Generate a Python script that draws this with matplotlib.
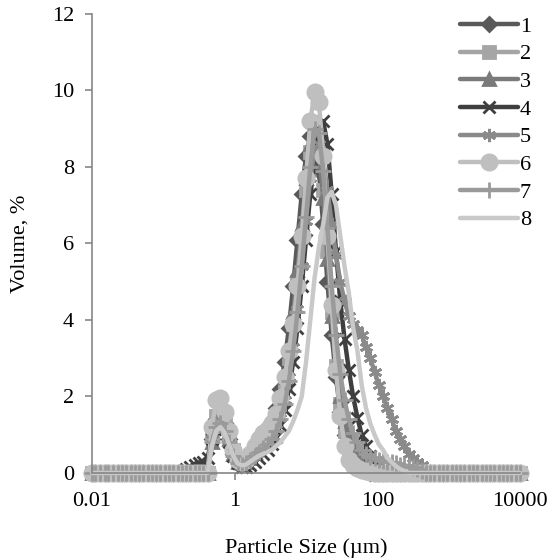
import numpy as np
import matplotlib
matplotlib.use("Agg")
import matplotlib.pyplot as plt

plt.rcParams['font.family'] = ['Liberation Serif', 'DejaVu Serif']

# size classes (um)
sizes = [0.010, 0.011, 0.013, 0.015, 0.017, 0.020, 0.023, 0.026, 0.030, 0.035,
         0.040, 0.046, 0.052, 0.060, 0.069, 0.079, 0.091, 0.105, 0.120, 0.138,
         0.158, 0.182, 0.209, 0.240, 0.275, 0.316, 0.363, 0.417, 0.479, 0.550,
         0.631, 0.724, 0.832, 0.955, 1.096, 1.259, 1.445, 1.660, 1.905, 2.188,
         2.512, 2.884, 3.311, 3.802, 4.365, 5.012, 5.754, 6.607, 7.586, 8.710,
         10.00, 11.48, 13.18, 15.14, 17.38, 19.95, 22.91, 26.30, 30.20, 34.67,
         39.81, 45.71, 52.48, 60.26, 69.18, 79.43, 91.20, 104.7, 120.2, 138.0,
         158.5, 182.0, 208.9, 239.9, 275.4, 316.2, 363.1, 416.9, 478.6, 549.5,
         631.0, 724.4, 831.8, 955.0, 1096, 1259, 1445, 1660, 1905, 2188,
         2512, 2884, 3311, 3802, 4365, 5012, 5754, 6607, 7586, 8710, 10000]

# volume % from the 0.182 um class upward; all other classes read as 0
start = 21
s1 = [0, 0, 0, 0, 0, 0, 0, 0.9, 1.4, 1.5, 1.3, 0.9, 0.5, 0.3, 0.25, 0.3, 0.45, 0.65, 0.85,
      1.0, 1.15, 1.35, 1.7, 2.2, 2.9, 3.8, 4.9, 6.1, 7.3, 8.3, 8.8, 8.7, 7.9, 6.5,
      5.0, 3.6, 2.5, 1.6, 1.0, 0.6, 0.35, 0.2, 0.1, 0.05]
s2 = [0, 0, 0, 0, 0, 0, 0, 1.0, 1.5, 1.6, 1.4, 1.0, 0.6, 0.35, 0.3, 0.35, 0.45, 0.6, 0.75,
      0.9, 1.0, 1.15, 1.4, 1.75, 2.3, 3.0, 3.9, 5.0, 6.2, 7.4, 8.4, 8.9, 8.6, 7.4,
      5.8, 4.2, 2.8, 1.8, 1.1, 0.65, 0.4, 0.25, 0.15, 0.08, 0.04]
s3 = [0, 0, 0, 0, 0, 0, 0, 0.8, 1.3, 1.45, 1.25, 0.9, 0.5, 0.3, 0.25, 0.3, 0.4, 0.55, 0.7,
      0.85, 1.0, 1.2, 1.5, 1.9, 2.5, 3.2, 4.2, 5.3, 6.5, 7.7, 8.6, 9.0, 8.5, 7.2,
      5.6, 4.1, 2.9, 2.0, 1.35, 0.9, 0.6, 0.4, 0.25, 0.15, 0.08, 0.04]
s4 = [0, 0.1, 0.15, 0.2, 0.25, 0.3, 0.4, 0.9, 1.2, 1.3, 1.15, 0.8, 0.45, 0.25, 0.15, 0.15, 0.2,
      0.3, 0.4, 0.5, 0.6, 0.75, 0.95, 1.25, 1.65, 2.2, 2.9, 3.8, 4.9, 6.1, 7.3, 8.3,
      9.0, 9.2, 8.6, 7.3, 5.8, 4.5, 3.5, 2.7, 2.0, 1.45, 1.0, 0.7, 0.45, 0.3, 0.18,
      0.1, 0.05]
s5 = [0, 0, 0, 0, 0, 0, 0, 0.9, 1.3, 1.4, 1.2, 0.85, 0.5, 0.3, 0.25, 0.3, 0.4, 0.5, 0.6,
      0.7, 0.8, 0.95, 1.15, 1.45, 1.9, 2.5, 3.3, 4.3, 5.4, 6.6, 7.7, 8.4, 8.6, 8.2,
      7.4, 6.5, 5.7, 5.0, 4.5, 4.1, 3.9, 3.75, 3.6, 3.3, 3.0, 2.65, 2.3, 2.0, 1.7,
      1.4, 1.1, 0.9, 0.7, 0.5, 0.4, 0.3, 0.2, 0.1, 0.05]
s6 = [0, 0, 0, 0, 0, 0, 0, 1.2, 1.9, 1.95, 1.6, 1.1, 0.6, 0.35, 0.3, 0.35, 0.5, 0.7, 0.9,
      1.05, 1.15, 1.3, 1.55, 1.95, 2.5, 3.2, 3.9, 4.9, 6.2, 7.7, 9.2, 9.95, 9.7, 8.3,
      6.2, 4.4, 2.7, 1.5, 0.7, 0.35, 0.2, 0.12, 0.08, 0.05, 0.03]
s7 = [0, 0, 0, 0, 0, 0, 0, 0.8, 1.2, 1.3, 1.1, 0.8, 0.45, 0.25, 0.2, 0.25, 0.35, 0.45, 0.55,
      0.65, 0.75, 0.9, 1.1, 1.4, 1.8, 2.4, 3.2, 4.2, 5.4, 6.7, 8.0, 9.0, 8.9, 7.9,
      6.4, 4.9, 3.6, 2.6, 1.9, 1.4, 1.05, 0.8, 0.6, 0.5, 0.42, 0.38, 0.35, 0.32,
      0.3, 0.28, 0.25, 0.22, 0.2, 0.18, 0.15, 0.1, 0.06]
s8 = [0, 0, 0, 0, 0, 0, 0, 0.7, 1.1, 1.2, 1.05, 0.75, 0.45, 0.25, 0.2, 0.22, 0.3, 0.38, 0.45,
      0.5, 0.55, 0.6, 0.7, 0.8, 0.95, 1.1, 1.35, 1.65, 2.0, 2.9, 4.0, 5.1, 5.9, 6.5,
      7.2, 7.35, 7.0, 6.2, 5.4, 4.7, 3.8, 3.2, 2.3, 1.7, 1.3, 1.0, 0.75, 0.6, 0.4,
      0.28, 0.18, 0.1, 0.05]

series = [s1, s2, s3, s4, s5, s6, s7, s8]
names = ['1', '2', '3', '4', '5', '6', '7', '8']
colors = ['#595959', '#a5a5a5', '#7a7a7a', '#3f3f3f', '#8a8a8a', '#bfbfbf', '#9a9a9a', '#c9c9c9']
markers = ['D', 's', '^', 'x', (6, 2, 0), 'o', '+', None]
msizes = [7.5, 9, 9, 8.5, 9.5, 11, 11, 0]

fig = plt.figure(figsize=(5.52, 5.6), dpi=100)
ax = fig.add_axes([0.1667, 0.1554, 0.7754, 0.8196])

for vals, name, c, m, ms in zip(series, names, colors, markers, msizes):
    y = np.zeros(len(sizes))
    y[start:start + len(vals)] = vals
    ax.plot(sizes, y, color=c, lw=3.2, marker=m, ms=ms, mfc=c, mec=c, mew=2,
            label=name, clip_on=False, solid_capstyle='round')

ax.set_xscale('log')
ax.set_xlim(0.01, 10000)
ax.set_ylim(0, 12)
ax.set_xticks([0.01, 1, 100, 10000])
ax.set_xticklabels(['0.01', '1', '100', '10000'])
ax.minorticks_off()
ax.set_yticks(range(0, 13, 2))

axc = '#868686'
for sp in ['top', 'right']:
    ax.spines[sp].set_visible(False)
for sp in ['left', 'bottom']:
    ax.spines[sp].set_color(axc)
    ax.spines[sp].set_linewidth(1.2)
ax.tick_params(axis='both', direction='out', length=5, width=1.2, color=axc,
               labelsize=16, labelcolor='black')
ax.tick_params(axis='x', pad=9)
ax.tick_params(axis='y', pad=8)

ax.set_xlabel('Particle Size (µm)', fontsize=16, labelpad=19)
ax.set_ylabel('Volume, %', fontsize=16, labelpad=16)

ax.legend(loc='upper left', bbox_to_anchor=(0.833, 0.971), bbox_transform=fig.transFigure,
          frameon=False, fontsize=16, handlelength=2.6, handletextpad=0.1,
          labelspacing=0.32, borderaxespad=0, borderpad=0, numpoints=1)

fig.savefig('out.png', dpi=100)
